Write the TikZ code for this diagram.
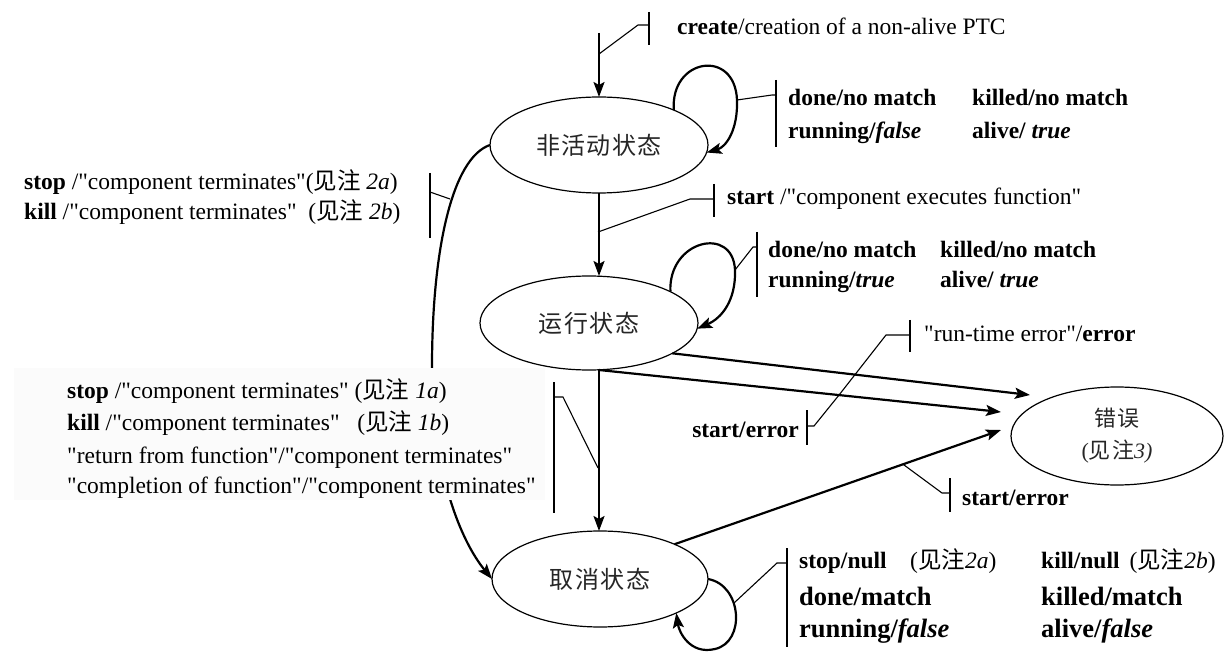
\documentclass[tikz,border=0pt]{standalone}
\usepackage{fontspec}
\setmainfont{Liberation Serif}[Ligatures=TeXOff]
\newfontfamily\cjk{Noto Sans CJK SC}
\newfontfamily\cjkell[LetterSpace=6]{Noto Sans CJK SC}
\usetikzlibrary{shapes.geometric,arrows.meta}

\begin{document}
\begin{tikzpicture}[x=1pt,y=-1pt,
  state/.style={ellipse,draw,line width=1.2pt,inner sep=0pt,outer sep=0pt,text=black!85,font=\fontsize{24}{26}\cjkell},
  tr/.style={line width=2.2pt,-{Stealth[length=15pt,width=11pt,inset=3pt]}},
  ann/.style={line width=1.1pt},
  bar/.style={line width=2.2pt},
  lbl/.style={anchor=base west,inner sep=0pt,font=\fontsize{23.5}{31}\selectfont},
  lblr/.style={anchor=base east,inner sep=0pt,font=\fontsize{23.5}{31}\selectfont},
  big/.style={font=\fontsize{26.5}{30}\selectfont},
]
\useasboundingbox (0,0) rectangle (1224,652);

% states
\node[state,minimum width=218pt,minimum height=96pt] (inact) at (599,145) {非活动状态};
\node[state,minimum width=218pt,minimum height=94pt] (run) at (589,323) {运行状态};
\node[state,minimum width=216pt,minimum height=96pt] (cancel) at (600,579) {取消状态};
\node[state,minimum width=212pt,minimum height=98pt,align=center,font=\fontsize{22}{32}\cjkell] (err) at (1117,436) {错误\\{\rmfamily(}见注{\rmfamily\itshape 3)}};

% create
\coordinate (c0) at (599,33);
\draw[tr] (c0) -- (inact.north);
\coordinate (ca) at (599,54);
\draw[ann] (ca) -- (638,25) -- (649,25);
\draw[bar] (649,12) -- (649,45);
\node[lbl] (tcreate) at (677,35) {\textbf{create}/creation of a non-alive PTC};

% top self loop
\draw[tr] (inact.25) .. controls (670,58) and (735,48) .. (737,100) coordinate (tl)
   .. controls (738,130) and (726,147) .. (inact.-4);
\draw[ann] (tl) -- (772,95) -- (776,95);
\draw[bar] (776,80) -- (776,147);
\node[lbl] (t1a) at (788,106) {\textbf{done/no match}};
\node[lbl] (t1b) at (972,106) {\textbf{killed/no match}};
\node[lbl] (t1c) at (788,139) {\textbf{running/\textit{false}}};
\node[lbl] (t1d) at (972,139) {\textbf{alive/ \textit{true}}};

% left curve inactive -> cancel
\draw[tr] (inact.west) .. controls (452,158) and (432,250) .. (432,367)
   .. controls (432,470) and (460,540) .. (cancel.west);
\coordinate (lc) at (450,199);
\draw[ann] (lc) -- (430,192);
\draw[bar] (430,173) -- (430,238);
\node[lbl] (t2a) at (24,190) {\textbf{stop} /"component terminates"({\cjk 见注} \textit{2a})};
\node[lbl] (t2b) at (24,220) {\textbf{kill} /"component terminates"\ \ ({\cjk 见注} \textit{2b})};

% label box
\fill[black!1.5] (14,368) rectangle (545,500);
\node[lbl] (t3a) at (67,399) {\textbf{stop} /"component terminates" ({\cjk 见注} \textit{1a})};
\node[lbl] (t3b) at (67,430) {\textbf{kill} /"component terminates"\ \ \ ({\cjk 见注} \textit{1b})};
\node[lbl] (t3c) at (67,463) {"return from function"/"component terminates"};
\node[lbl] (t3d) at (67,493) {"completion of function"/"component terminates"};

% inactive -> running
\draw[tr] (inact.south) -- (inact.south |- run.north);
\coordinate (sa) at (598,232);
\draw[ann] (sa) -- (690,199) -- (714,199);
\draw[bar] (714,184) -- (714,217);
\node[lbl] (t4) at (727,205) {\textbf{start} /"component executes function"};

% running self loop
\draw[tr] (run.21) .. controls (668,240) and (733,225) .. (735,270) coordinate (ml)
   .. controls (736,300) and (722,318) .. (run.-3);
\draw[ann] (ml) -- (753,247) -- (757,247);
\draw[bar] (757,232) -- (757,297);
\node[lbl] (t5a) at (768,258) {\textbf{done/no match}};
\node[lbl] (t5b) at (940,258) {\textbf{killed/no match}};
\node[lbl] (t5c) at (768,288) {\textbf{running/\textit{true}}};
\node[lbl] (t5d) at (940,288) {\textbf{alive/ \textit{true}}};

% running -> cancel
\coordinate (rb) at (inact.south |- run.south);
\draw[tr] (rb) -- (rb |- cancel.north);
\coordinate (va) at (598,468);
\draw[ann] (va) -- (563,397) -- (554,397);
\draw[bar] (554,382) -- (554,513);

% arrows to error
\coordinate (e1) at (1030,395);
\coordinate (e2) at (1001,412);
\coordinate (e3) at (1001,430);
\draw[tr] (run.-20) -- (e1);
\draw[tr] (rb) -- (e2);
\draw[tr] (cancel.25) -- (e3);
\path (rb) -- (e2) coordinate[pos=0.597] (m2);
\draw[ann] (m2) -- (886,335) -- (910,335);
\draw[ann] (m2) -- (814,426) -- (807,426);
\draw[bar] (910,320) -- (910,352);
\draw[bar] (807,410) -- (807,445);
\node[lbl] (t6) at (924,342) {"run-time error"/\textbf{error}};
\node[lblr] (t7) at (799,437) {\textbf{start/error}};
\path (cancel.25) -- (e3) coordinate[pos=0.7] (m3);
\draw[ann] (m3) -- (942,493) -- (950,493);
\draw[bar] (950,478) -- (950,512);
\node[lbl] (t8) at (962,505) {\textbf{start/error}};

% cancel self loop
\draw[tr] (cancel.east) .. controls (742,585) and (746,642) .. (715,649)
   .. controls (690,655) and (679,632) .. (cancel.-24);
\coordinate (bl) at (734,603);
\draw[ann] (bl) -- (777,563) -- (787,563);
\draw[bar] (787,548) -- (787,647);
\node[lbl] (t9a) at (799,568) {\textbf{stop/null}\quad({\cjk 见注}\textit{2a})};
\node[lbl] (t9b) at (1041,568) {\textbf{kill/null}\hspace{10pt}({\cjk 见注}\textit{2b})};
\node[lbl,big] (t9c) at (799,605) {\textbf{done/match}};
\node[lbl,big] (t9d) at (1041,605) {\textbf{killed/match}};
\node[lbl,big] (t9e) at (799,637) {\textbf{running/\textit{false}}};
\node[lbl,big] (t9f) at (1041,637) {\textbf{alive/\textit{false}}};
\end{tikzpicture}
\end{document}
